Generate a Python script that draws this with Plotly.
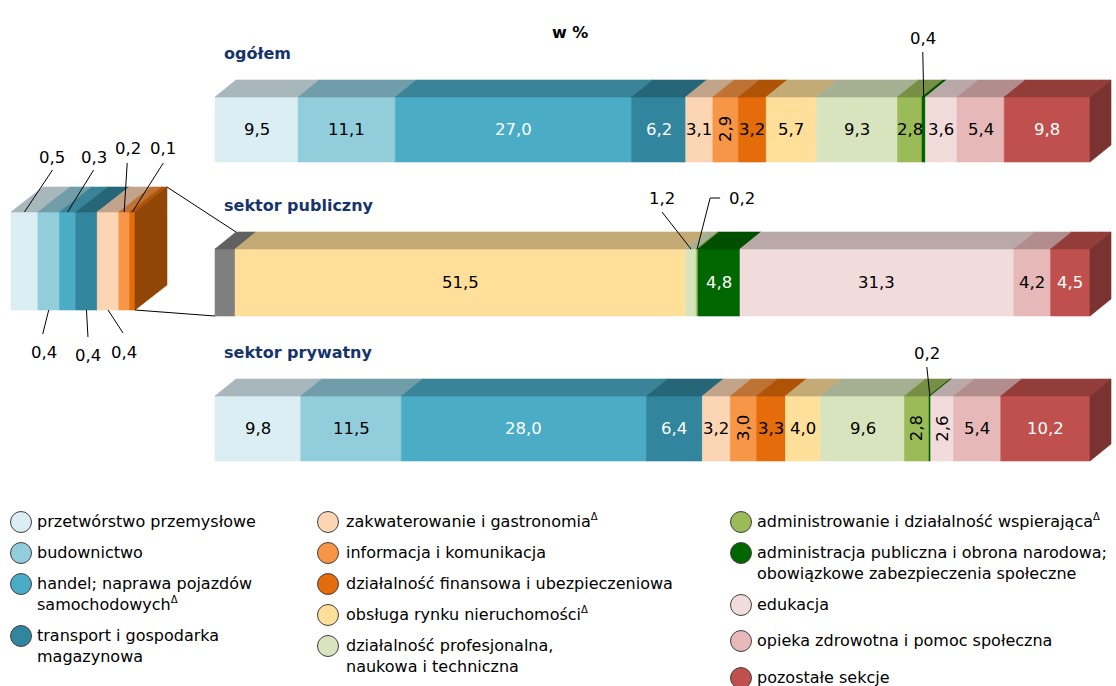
import plotly.graph_objects as go

# ---------------- data ----------------
categories = [
    "przetwórstwo przemysłowe",
    "budownictwo",
    "handel; naprawa pojazdów samochodowych",
    "transport i gospodarka magazynowa",
    "zakwaterowanie i gastronomia",
    "informacja i komunikacja",
    "działalność finansowa i ubezpieczeniowa",
    "obsługa rynku nieruchomości",
    "działalność profesjonalna, naukowa i techniczna",
    "administrowanie i działalność wspierająca",
    "administracja publiczna i obrona narodowa; obowiązkowe zabezpieczenia społeczne",
    "edukacja",
    "opieka zdrowotna i pomoc społeczna",
    "pozostałe sekcje",
]
DELTA = "<sup><span style='font-size:10px'>Δ</span></sup>"
legend_labels = [
    "przetwórstwo przemysłowe",
    "budownictwo",
    "handel; naprawa pojazdów<br>samochodowych" + DELTA,
    "transport i gospodarka<br>magazynowa",
    "zakwaterowanie i gastronomia" + DELTA,
    "informacja i komunikacja",
    "działalność finansowa i ubezpieczeniowa",
    "obsługa rynku nieruchomości" + DELTA,
    "działalność profesjonalna,<br>naukowa i techniczna",
    "administrowanie i działalność wspierająca" + DELTA,
    "administracja publiczna i obrona narodowa;<br>obowiązkowe zabezpieczenia społeczne",
    "edukacja",
    "opieka zdrowotna i pomoc społeczna",
    "pozostałe sekcje",
]
ogolem = [9.5, 11.1, 27.0, 6.2, 3.1, 2.9, 3.2, 5.7, 9.3, 2.8, 0.4, 3.6, 5.4, 9.8]
publiczny = [0.5, 0.4, 0.3, 0.4, 0.4, 0.2, 0.1, 51.5, 1.2, 0.2, 4.8, 31.3, 4.2, 4.5]
prywatny = [9.8, 11.5, 28.0, 6.4, 3.2, 3.0, 3.3, 4.0, 9.6, 2.8, 0.2, 2.6, 5.4, 10.2]
bar_titles = ["ogółem", "sektor publiczny", "sektor prywatny"]
chart_title = "w %"
N_ZOOMED = 7  # first sections of the public sector shown magnified

# ---------------- style ----------------
colors = ["#DAEEF3", "#92CDDC", "#4BACC6", "#31859C", "#FCD5B5", "#F79646", "#E46C0A",
          "#FFDF99", "#D7E4BD", "#9BBB59", "#006600", "#F2DCDB", "#E6B9B8", "#C0504D"]
GRAY = "#7F7F7F"
NAVY = "#17346A"
FONT = "DejaVu Sans"
VAL_SIZE = 16.5
TOP_F, SIDE_F = 0.77, 0.64
WHITE_IDX = {2, 3, 10, 13}
ROTATED = {(0, 5), (2, 5), (2, 9), (2, 11)}

W, H = 1116, 686
MAIN_X0, MAIN_K = 215, 8.75          # px of 0 %, px per %
INSET_X0, INSET_K = 11, 53.9
BAR_Y = [(97, 162), (249, 316), (396, 461)]
DX_PX, DY_PX = 21, 17
INSET_Y = (212, 310)
IDX_PX, IDY_PX = 32, 25

x_range = [-MAIN_X0 / MAIN_K, (W - MAIN_X0) / MAIN_K]
x2_range = [-INSET_X0 / INSET_K, (W - INSET_X0) / INSET_K]

# callouts: offsets in px relative to (segment centre, bar top)
BAR_CALLOUTS = {
    (0, 10): dict(pts=[(0, 0), (-1, -45)], text=(-1, -59)),
    (2, 10): dict(pts=[(0, 0), (-3, -29)], text=(-3, -43)),
    (1, 8): dict(pts=[(0, 0), (-29, -37)], text=(-29, -51)),
    (1, 9): dict(pts=[(0, 0), (13, -51), (23, -51)], text=(45, -51)),
}
# inset callouts: (edge, line end offset, text offset) in px rel. to centre and edge
INSET_CALLOUTS = {
    0: ("top", (28, -42), (28, -55)),
    2: ("top", (26, -42), (26, -55)),
    5: ("top", (3, -49), (4, -64)),
    6: ("top", (31, -49), (31, -64)),
    1: ("bottom", (-6, 24), (-5, 42)),
    3: ("bottom", (1.5, 27), (1.5, 45)),
    4: ("bottom", (15, 23), (16, 42)),
}


def shade(hx, f):
    r, g, b = int(hx[1:3], 16), int(hx[3:5], 16), int(hx[5:7], 16)
    return "#%02X%02X%02X" % (int(r * f), int(g * f), int(b * f))


def fmt(v):
    return f"{v:.1f}".replace(".", ",")


fig = go.Figure()
annotations = []
shapes = []


def poly(xs, ys, c, axis):
    fig.add_trace(go.Scatter(x=xs + [xs[0]], y=ys + [ys[0]], fill="toself", fillcolor=c,
                             mode="lines", line=dict(color=c, width=0.6), hoverinfo="skip",
                             showlegend=False, xaxis=axis, yaxis="y"))


def box(x0, x1, top, bot, c, dx, dy, axis, side):
    poly([x0, x1, x1, x0], [top, top, bot, bot], c, axis)
    poly([x0, x1, x1 + dx, x0 + dx], [top, top, top - dy, top - dy], shade(c, TOP_F), axis)
    if side:
        poly([x1, x1 + dx, x1 + dx, x1], [top, top - dy, bot - dy, bot], shade(c, SIDE_F), axis)


# ---------------- main bars ----------------
DX = DX_PX / MAIN_K
bars = [
    [(i, v) for i, v in enumerate(ogolem)],
    [(-1, sum(publiczny[:N_ZOOMED]))] + [(i, publiczny[i]) for i in range(N_ZOOMED, len(publiczny))],
    [(i, v) for i, v in enumerate(prywatny)],
]
for b, segs in enumerate(bars):
    top, bot = BAR_Y[b]
    start = 0.0
    for k, (idx, v) in enumerate(segs):
        c = GRAY if idx < 0 else colors[idx]
        box(start, start + v, top, bot, c, DX, DY_PX, "x", k == len(segs) - 1)
        cx = start + v / 2
        if idx >= 0:
            fcol = "white" if idx in WHITE_IDX else "black"
            if (b, idx) in BAR_CALLOUTS:
                co = BAR_CALLOUTS[(b, idx)]
                path = " ".join(("M" if j == 0 else "L") + f" {cx + px / MAIN_K} {top + py}"
                                for j, (px, py) in enumerate(co["pts"]))
                shapes.append(dict(type="path", path=path, xref="x", yref="y",
                                   line=dict(color="black", width=1)))
                annotations.append(dict(x=cx + co["text"][0] / MAIN_K, y=top + co["text"][1],
                                        xref="x", yref="y", text=fmt(v), showarrow=False,
                                        font=dict(size=VAL_SIZE, color="black", family=FONT)))
            else:
                annotations.append(dict(x=cx, y=(top + bot) / 2, xref="x", yref="y", text=fmt(v),
                                        showarrow=False,
                                        textangle=-90 if (b, idx) in ROTATED else 0,
                                        font=dict(size=VAL_SIZE, color=fcol, family=FONT)))
        start += v
    annotations.append(dict(x=7 / MAIN_K, y=top - 44, xref="x", yref="y", text=f"<b>{bar_titles[b]}</b>",
                            xanchor="left", showarrow=False,
                            font=dict(size=16, color=NAVY, family=FONT)))

# ---------------- inset (magnified part of the public sector) ----------------
IDX = IDX_PX / INSET_K
itop, ibot = INSET_Y
start = 0.0
for i in range(N_ZOOMED):
    v = publiczny[i]
    box(start, start + v, itop, ibot, colors[i], IDX, IDY_PX, "x2", i == N_ZOOMED - 1)
    cx = start + v / 2
    edge, lend, tpos = INSET_CALLOUTS[i]
    ey = itop if edge == "top" else ibot
    shapes.append(dict(type="line", xref="x2", yref="y", x0=cx, y0=ey,
                       x1=cx + lend[0] / INSET_K, y1=ey + lend[1], line=dict(color="black", width=1)))
    annotations.append(dict(x=cx + tpos[0] / INSET_K, y=ey + tpos[1], xref="x2", yref="y",
                            text=fmt(v), showarrow=False,
                            font=dict(size=VAL_SIZE, color="black", family=FONT)))
    start += v
inset_total = start


def to_paper(v, rng):
    return (v - rng[0]) / (rng[1] - rng[0])


ptop, pbot = BAR_Y[1]
shapes.append(dict(type="line", xref="paper", yref="y",
                   x0=to_paper(inset_total + IDX, x2_range), y0=itop - IDY_PX,
                   x1=to_paper(DX, x_range), y1=ptop - DY_PX, line=dict(color="black", width=1)))
shapes.append(dict(type="line", xref="paper", yref="y",
                   x0=to_paper(inset_total, x2_range), y0=ibot,
                   x1=to_paper(0, x_range), y1=pbot, line=dict(color="black", width=1)))

# ---------------- title ----------------
annotations.append(dict(x=570 / W, y=1 - 21 / H, xref="paper", yref="paper", text=f"<b>{chart_title}</b>",
                        showarrow=False, font=dict(size=16, color="black", family=FONT)))

# ---------------- legend ----------------
LEG_COLS = [list(range(0, 4)), list(range(4, 9)), list(range(9, 14))]
LEG_MX = [21, 328, 741]
LEG_TX = [35, 344, 755]
LEG_Y = [[521, 552, 583, 635], [521, 552, 583, 614, 645], [521, 552, 604, 640, 677]]
R = 10.5
LINE_H = 21
for ci, col in enumerate(LEG_COLS):
    for ri, idx in enumerate(col):
        y = LEG_Y[ci][ri]
        nl = legend_labels[idx].count("<br>") + 1
        shapes.append(dict(type="circle", xref="paper", yref="paper",
                           x0=(LEG_MX[ci] - R) / W, x1=(LEG_MX[ci] + R) / W,
                           y0=1 - (y + 1 + R) / H, y1=1 - (y + 1 - R) / H,
                           fillcolor=colors[idx], line=dict(color="#404040", width=1)))
        annotations.append(dict(x=LEG_TX[ci] / W, y=1 - (y + (nl - 1) * LINE_H / 2) / H,
                                xref="paper", yref="paper", xanchor="left", yanchor="middle",
                                align="left", text=legend_labels[idx], showarrow=False,
                                font=dict(size=16, color="black", family=FONT)))

fig.update_layout(
    width=W, height=H, autosize=False,
    margin=dict(l=0, r=0, t=0, b=0),
    paper_bgcolor="white", plot_bgcolor="white",
    xaxis=dict(range=x_range, domain=[0, 1], visible=False, fixedrange=True),
    xaxis2=dict(range=x2_range, domain=[0, 1], overlaying="x", visible=False, fixedrange=True),
    yaxis=dict(range=[H, 0], domain=[0, 1], visible=False, fixedrange=True),
    shapes=shapes, annotations=annotations, showlegend=False,
)

fig.write_html("out.html", config={"displayModeBar": False},
               post_script="document.body.style.margin='0';document.body.style.overflow='hidden';")
